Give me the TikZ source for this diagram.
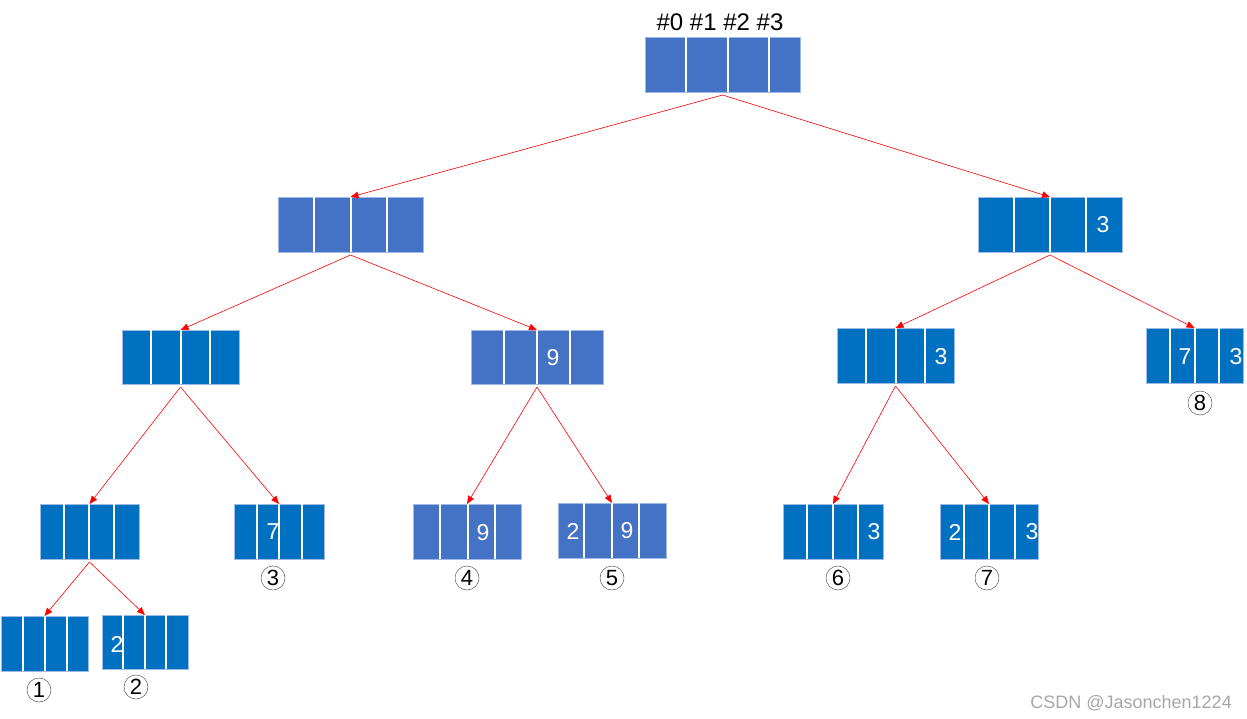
\documentclass[tikz,border=0pt]{standalone}
\usepackage{fontspec}
\setmainfont{Liberation Sans}
\usetikzlibrary{arrows.meta}
\definecolor{bA}{HTML}{4472C4}
\definecolor{bB}{HTML}{0070C0}
\definecolor{bord}{HTML}{9DBBE6}
\definecolor{wm}{HTML}{A6A6A6}
\tikzset{
  cellbox/.style={draw=bord, line width=0.8pt, inner sep=0pt, outer sep=0pt, anchor=north west},
  divider/.style={draw=white, line width=1.3pt},
  arr/.style={draw=red, line width=0.6pt, -{Triangle[length=8pt,width=6.5pt]}},
  dig/.style={text=white, font=\fontsize{23}{23}\selectfont, inner sep=0pt},
  circnum/.style={circle, draw=black!65, line width=0.5pt, minimum size=24pt, inner sep=0pt, font=\fontsize{22}{22}\selectfont},
}
\newcommand\arrbox[9]{%
  \node[cellbox, fill=#2, minimum width={(#5-#3)*1pt}, minimum height={(#6-#4)*1pt}] (#1) at (#3,#4) {};
  \draw[divider] (#7,#4) -- (#7,#6);
  \draw[divider] (#8,#4) -- (#8,#6);
  \draw[divider] (#9,#4) -- (#9,#6);
}
\begin{document}
\begin{tikzpicture}[x=1pt,y=-1pt]
\useasboundingbox (0,0) rectangle (1247,719);
\arrbox{root}{bA}{645}{37}{800}{92}{686}{728}{769}
\node[font=\fontsize{24}{24}\selectfont, inner sep=0pt] (hdr) at (720,22) {\#0 \#1 \#2 \#3};
\arrbox{La}{bA}{278}{197}{423}{252}{314}{351}{387}
\arrbox{Lb}{bB}{978}{197}{1122}{252}{1014}{1050}{1086}
\node[dig] (t1) at (1103,225) {3};
\arrbox{Ma}{bB}{122}{330}{239}{384}{151}{181}{210}
\arrbox{Mb}{bA}{471}{330}{603}{384}{504}{537}{570}
\node[dig] (t2) at (553,358) {9};
\arrbox{Mc}{bB}{837}{328}{954}{383}{866}{896}{925}
\node[dig] (t3) at (941,357) {3};
\arrbox{Md}{bB}{1146}{328}{1243}{383}{1170}{1195}{1219}
\node[dig] (t4) at (1185,357) {7};
\node[dig] (t5) at (1236,357) {3};
\node[circnum] (c8) at (1200,403) {8};
\arrbox{Na}{bB}{40}{504}{139}{559}{64}{89}{114}
\arrbox{Nb}{bB}{234}{504}{324}{559}{257}{279}{302}
\node[dig] (t6) at (273,532) {7};
\node[circnum] (c3) at (273,578) {3};
\arrbox{Nc}{bA}{413}{504}{521}{559}{440}{468}{495}
\node[dig] (t7) at (483,533) {9};
\node[circnum] (c4) at (467,578) {4};
\arrbox{Nd}{bA}{558}{503}{666}{558}{584}{612}{639}
\node[dig] (t8) at (573,531) {2};
\node[dig] (t9) at (627,531) {9};
\node[circnum] (c5) at (612,578) {5};
\arrbox{Ne}{bB}{783}{504}{883}{559}{807}{833}{858}
\node[dig] (t10) at (874,532) {3};
\node[circnum] (c6) at (838,578) {6};
\arrbox{Nf}{bB}{940}{504}{1038}{559}{964}{989}{1015}
\node[dig] (t11) at (955,532) {2};
\node[dig] (t12) at (1032,532) {3};
\node[circnum] (c7) at (987,578) {7};
\arrbox{Oa}{bB}{1}{616}{88}{671}{23}{45}{67}
\node[circnum] (c1) at (39,690) {1};
\arrbox{Ob}{bB}{102}{615}{188}{669}{123}{145}{166}
\node[dig] (t13) at (117,644) {2};
\node[circnum] (c2) at (136,687) {2};
\foreach \p/\c in {root/La, root/Lb, La/Ma, La/Mb, Lb/Mc, Lb/Md, Ma/Na, Ma/Nb, Mb/Nc, Mb/Nd, Mc/Ne, Mc/Nf, Na/Oa, Na/Ob}
  \draw[arr] ([yshift=-3pt]\p.south) -- (\c.north);
\node[text=wm, font=\fontsize{18}{18}\selectfont, anchor=east, inner sep=0pt] (wmk) at (1232,703) {CSDN @Jasonchen1224};
\end{tikzpicture}
\end{document}
